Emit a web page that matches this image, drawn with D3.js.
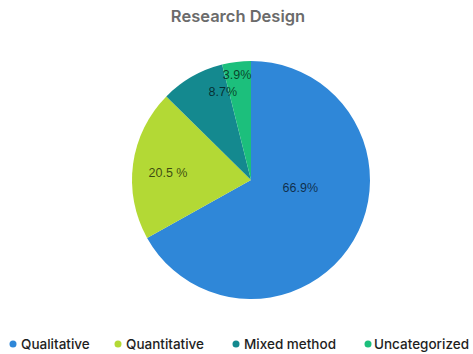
<!DOCTYPE html>
<html>
<head>
<meta charset="utf-8">
<script src="https://cdn.jsdelivr.net/npm/d3@7"></script>
<style>
  html, body { margin: 0; padding: 0; background: #fff; }
  svg { display: block; }
</style>
</head>
<body>
<svg id="chart" width="473" height="354"></svg>
<script>
// Research design breakdown (percent of studies)
const categories = ["Qualitative", "Quantitative", "Mixed method", "Uncategorized"];
const shares = [66.9, 20.5, 8.7, 3.9];
const labels = ["66.9%", "20.5 %", "8.7%", "3.9%"];
const colors = ["#2f87d8", "#b3d935", "#14898f", "#1cbf7c"];

const svg = d3.select("#chart");
const cx = 251, cy = 180, R = 119;

svg.append("text")
  .attr("x", 238).attr("y", 22)
  .attr("text-anchor", "middle")
  .attr("font-family", "Inter, 'Noto Sans', sans-serif")
  .attr("font-size", 16.5)
  .attr("font-weight", 600)
  .attr("fill", "#6b6b6b")
  .text("Research Design");

const pie = d3.pie().sort(null).value(d => d)(shares);
const arc = d3.arc().innerRadius(0).outerRadius(R);

const g = svg.append("g").attr("transform", `translate(${cx},${cy})`);
g.selectAll("path").data(pie).join("path")
  .attr("d", arc)
  .attr("fill", (d, i) => colors[i]);

// label placement: radius (fraction of R) and angle shift from slice middle
const labelPlace = [
  { r: 0.42, shift: -0.37 },
  { r: 0.70, shift: -0.05 },
  { r: 0.78, shift: 0.21 },
  { r: 0.89, shift: -0.01 }
];
g.selectAll("text.lbl").data(pie).join("text")
  .attr("class", "lbl")
  .each(function (d, i) {
    const a = (d.startAngle + d.endAngle) / 2 + labelPlace[i].shift;
    const rr = R * labelPlace[i].r;
    d3.select(this)
      .attr("x", rr * Math.sin(a))
      .attr("y", -rr * Math.cos(a));
  })
  .attr("text-anchor", "middle")
  .attr("dy", "0.35em")
  .attr("font-family", "Arial, 'Liberation Sans', sans-serif")
  .attr("font-size", 12.5)
  .attr("fill", "rgba(0,0,0,0.68)")
  .text((d, i) => labels[i]);

// legend row
const legendX = [13, 118, 236, 368];
const lg = svg.append("g").attr("transform", "translate(0,344)");
const items = lg.selectAll("g").data(categories).join("g")
  .attr("transform", (d, i) => `translate(${legendX[i]},0)`);
items.append("circle").attr("r", 3.5).attr("fill", (d, i) => colors[i]);
items.append("text")
  .attr("x", (d, i) => i === 3 ? 6 : 8)
  .attr("dy", "0.35em")
  .attr("font-family", "Inter, 'Noto Sans', sans-serif")
  .attr("font-size", 13.5)
  .attr("font-weight", 500)
  .attr("fill", "#1e1e1e")
  .text(d => d);
</script>
</body>
</html>
